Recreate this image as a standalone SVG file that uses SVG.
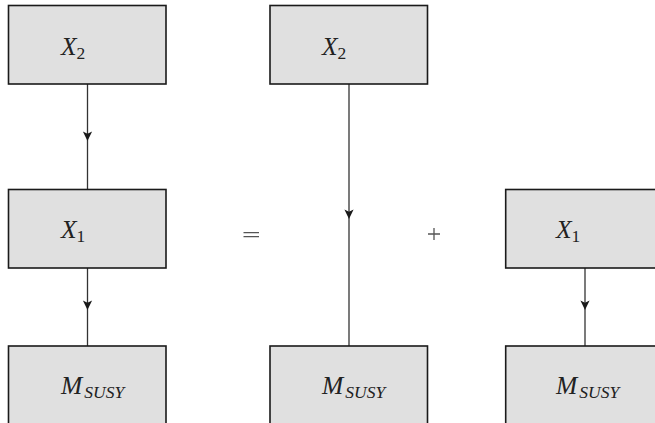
<svg xmlns="http://www.w3.org/2000/svg" width="655" height="423" viewBox="0 0 655 423">
<style>
.box{fill:#e0e0e0;stroke:#1a1a1a;stroke-width:1.6}
text{font-family:'Liberation Serif','Times New Roman',serif;font-size:25.5px;fill:#222}
.it{font-style:italic}
.sub{font-size:17.5px}
.con{fill:none;stroke:#333;stroke-width:1.3}
.op{stroke:#555;stroke-width:1.3;fill:none}
</style>
<defs>
<marker id="ah" markerUnits="userSpaceOnUse" markerWidth="12" markerHeight="12" viewBox="-10 -6 12 12" refX="0" refY="0" orient="auto">
<path d="M0,0 L-9.5,-4.6 L-7.2,0 L-9.5,4.6 Z" fill="#1a1a1a"/>
</marker>
</defs>
<g id="connectors">
<path class="con" d="M87.5,84 L87.5,141 L87.5,189" marker-mid="url(#ah)"/>
<path class="con" d="M87.5,268 L87.5,310 L87.5,346" marker-mid="url(#ah)"/>
<path class="con" d="M349,84 L349,219 L349,346" marker-mid="url(#ah)"/>
<path class="con" d="M585,268 L585,310 L585,346" marker-mid="url(#ah)"/>
</g>
<g id="L_X2"><rect class="box" x="8.5" y="5.5" width="157.5" height="78.5"/>
<text x="61" y="55"><tspan class="it">X</tspan><tspan class="sub" dy="4">2</tspan></text></g>
<g id="L_X1"><rect class="box" x="8.5" y="189.5" width="157.5" height="78.5"/>
<text x="61" y="238"><tspan class="it">X</tspan><tspan class="sub" dy="4">1</tspan></text></g>
<g id="L_M"><rect class="box" x="8.5" y="346" width="157.5" height="78.5"/>
<text x="61" y="394"><tspan class="it">M</tspan><tspan class="sub it" dx="2" dy="4">SUSY</tspan></text></g>
<g id="M_X2"><rect class="box" x="270" y="5.5" width="157.5" height="78.5"/>
<text x="322" y="55"><tspan class="it">X</tspan><tspan class="sub" dy="4">2</tspan></text></g>
<g id="M_M"><rect class="box" x="270" y="346" width="157.5" height="78.5"/>
<text x="322" y="394"><tspan class="it">M</tspan><tspan class="sub it" dx="2" dy="4">SUSY</tspan></text></g>
<g id="R_X1"><rect class="box" x="505.7" y="189.5" width="157.5" height="78.5"/>
<text x="556" y="238"><tspan class="it">X</tspan><tspan class="sub" dy="4">1</tspan></text></g>
<g id="R_M"><rect class="box" x="505.7" y="346" width="157.5" height="78.5"/>
<text x="556" y="394"><tspan class="it">M</tspan><tspan class="sub it" dx="2" dy="4">SUSY</tspan></text></g>
<g id="equals"><path class="op" d="M243.5,232.7 H259 M243.5,236.7 H259"/></g>
<g id="plus"><path class="op" d="M428,234 H440 M434,228 V240"/></g>
</svg>
